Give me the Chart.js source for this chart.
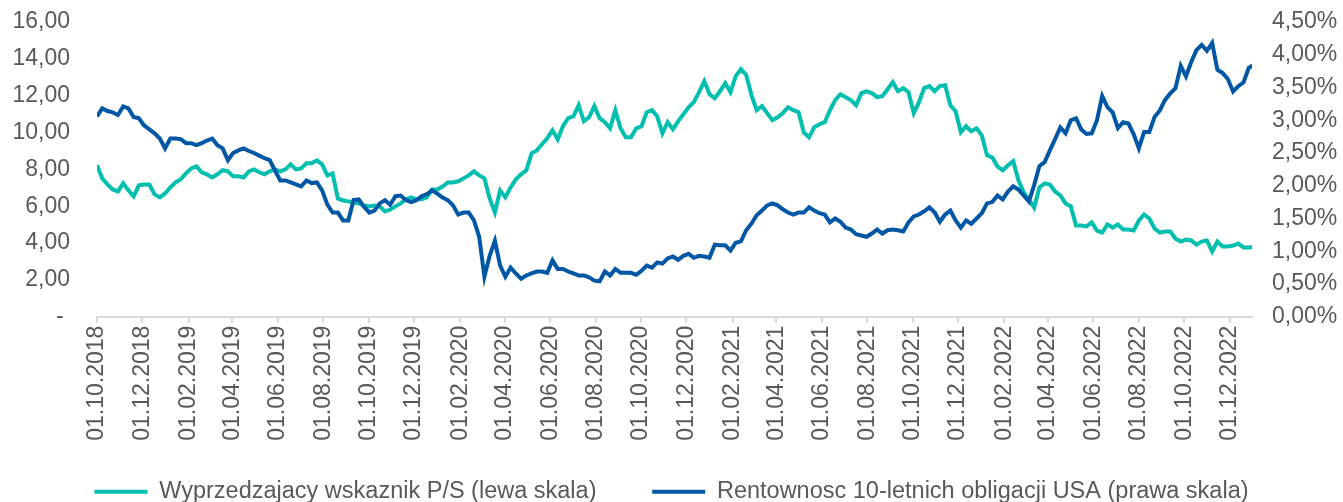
<!DOCTYPE html>
<html lang="pl">
<head>
  <meta charset="UTF-8">
  <title>P/S i rentownosc</title>
  <script src="https://cdn.jsdelivr.net/npm/chart.js@4.4.1/dist/chart.umd.min.js"></script>
  <style>
    html, body { margin: 0; padding: 0; background: #fff; }
  </style>
</head>
<body>
  <canvas id="chart" width="1343" height="502"></canvas>

  <script>
    // series names
    const psLabel = 'Wyprzedzajacy wskaznik P/S (lewa skala)'
    const yieldLabel = 'Rentownosc 10-letnich obligacji USA (prawa skala)'

    // readings taken roughly once a week starting 01.10.2018
    const startDate = '01.10.2018'
    const endDate = '31.12.2022'
    const stepDays = 7.035

    const tickLabels = [
      '01.10.2018', '01.12.2018', '01.02.2019', '01.04.2019', '01.06.2019', '01.08.2019',
      '01.10.2019', '01.12.2019', '01.02.2020', '01.04.2020', '01.06.2020', '01.08.2020',
      '01.10.2020', '01.12.2020', '01.02.2021', '01.04.2021', '01.06.2021', '01.08.2021',
      '01.10.2021', '01.12.2021', '01.02.2022', '01.04.2022', '01.06.2022', '01.08.2022',
      '01.10.2022', '01.12.2022'
    ]
    const leftTicks = ['- ', '2,00', '4,00', '6,00', '8,00', '10,00', '12,00', '14,00', '16,00']
    const rightTicks = ['0,00%', '0,50%', '1,00%', '1,50%', '2,00%', '2,50%', '3,00%', '3,50%', '4,00%', '4,50%']

    const psValues = [
      8.22, 7.51, 7.18, 6.91, 6.80, 7.24, 6.86, 6.53, 7.13, 7.18,
      7.18, 6.64, 6.48, 6.69, 7.02, 7.29, 7.46, 7.78, 8.05, 8.16,
      7.84, 7.73, 7.56, 7.73, 7.95, 7.89, 7.62, 7.62, 7.56, 7.89,
      8.00, 7.84, 7.73, 7.89, 8.00, 7.89, 8.00, 8.27, 8.00, 8.05,
      8.33, 8.33, 8.49, 8.27, 7.67, 7.78, 6.42, 6.31, 6.26, 6.20,
      6.15, 6.04, 5.99, 6.04, 5.99, 5.71, 5.82, 5.99, 6.15, 6.37,
      6.48, 6.37, 6.37, 6.48, 6.91, 6.91, 7.07, 7.29, 7.29, 7.35,
      7.51, 7.67, 7.89, 7.67, 7.51, 6.42, 5.66, 6.86, 6.48, 7.02,
      7.46, 7.73, 7.95, 8.87, 9.03, 9.36, 9.69, 10.12, 9.63, 10.34,
      10.78, 10.88, 11.48, 10.61, 10.83, 11.43, 10.78, 10.56, 10.23, 11.21,
      10.23, 9.74, 9.74, 10.23, 10.34, 11.10, 11.21, 10.88, 9.96, 10.56,
      10.18, 10.61, 10.99, 11.37, 11.65, 12.19, 12.79, 12.08, 11.86, 12.24,
      12.68, 12.19, 13.06, 13.44, 13.12, 12.03, 11.21, 11.43, 11.05, 10.67,
      10.83, 11.05, 11.37, 11.21, 11.10, 10.01, 9.74, 10.29, 10.45, 10.56,
      11.21, 11.76, 12.08, 11.92, 11.76, 11.48, 12.14, 12.24, 12.14, 11.92,
      11.97, 12.35, 12.73, 12.24, 12.41, 12.19, 11.05, 11.65, 12.41, 12.52,
      12.24, 12.52, 12.57, 11.48, 11.16, 10.01, 10.34, 10.07, 10.23, 9.85,
      8.76, 8.65, 8.16, 7.95, 8.22, 8.44, 7.40, 6.75, 6.37, 5.93,
      7.02, 7.24, 7.18, 6.80, 6.59, 6.15, 5.99, 4.95, 4.95, 4.90,
      5.12, 4.68, 4.57, 5.01, 4.84, 5.01, 4.73, 4.73, 4.68, 5.22,
      5.55, 5.33, 4.79, 4.57, 4.63, 4.63, 4.24, 4.08, 4.19, 4.14,
      3.92, 4.08, 4.14, 3.54, 4.08, 3.81, 3.81, 3.86, 3.97, 3.76,
      3.76, 3.80
    ]

    const yieldValues = [
      3.06, 3.18, 3.14, 3.12, 3.08, 3.21, 3.18, 3.05, 3.03, 2.92,
      2.86, 2.80, 2.72, 2.57, 2.72, 2.72, 2.71, 2.65, 2.65, 2.62,
      2.65, 2.69, 2.72, 2.62, 2.57, 2.39, 2.50, 2.54, 2.57, 2.53,
      2.50, 2.46, 2.42, 2.39, 2.23, 2.08, 2.08, 2.05, 2.02, 1.99,
      2.08, 2.04, 2.05, 1.93, 1.71, 1.59, 1.59, 1.47, 1.47, 1.78,
      1.79, 1.68, 1.59, 1.62, 1.73, 1.78, 1.71, 1.84, 1.85, 1.78,
      1.75, 1.78, 1.84, 1.87, 1.93, 1.88, 1.82, 1.78, 1.70, 1.56,
      1.59, 1.59, 1.47, 1.22, 0.61, 0.93, 1.16, 0.78, 0.61, 0.75,
      0.66, 0.58, 0.63, 0.66, 0.69, 0.69, 0.67, 0.86, 0.73, 0.73,
      0.69, 0.66, 0.63, 0.63, 0.60, 0.55, 0.54, 0.69, 0.63, 0.73,
      0.67, 0.67, 0.67, 0.64, 0.70, 0.78, 0.75, 0.83, 0.81, 0.89,
      0.92, 0.87, 0.93, 0.96, 0.90, 0.93, 0.92, 0.90, 1.10, 1.09,
      1.09, 1.01, 1.13, 1.15, 1.32, 1.42, 1.55, 1.62, 1.70, 1.73,
      1.70, 1.64, 1.59, 1.56, 1.59, 1.59, 1.67, 1.62, 1.58, 1.56,
      1.44, 1.50, 1.45, 1.36, 1.33, 1.26, 1.24, 1.22, 1.27, 1.33,
      1.27, 1.32, 1.33, 1.32, 1.30, 1.44, 1.53, 1.56, 1.61, 1.67,
      1.59, 1.45, 1.56, 1.62, 1.47, 1.36, 1.47, 1.42, 1.50, 1.58,
      1.73, 1.75, 1.85, 1.79, 1.91, 1.99, 1.94, 1.85, 1.76, 2.01,
      2.30, 2.36, 2.54, 2.71, 2.89, 2.80, 3.00, 3.03, 2.86, 2.79,
      2.80, 3.00, 3.37, 3.20, 3.12, 2.88, 2.97, 2.95, 2.79, 2.57,
      2.82, 2.82, 3.05, 3.15, 3.31, 3.41, 3.49, 3.83, 3.67, 3.89,
      4.07, 4.15, 4.06, 4.18, 3.77, 3.72, 3.63, 3.44, 3.52, 3.58,
      3.80, 3.85
    ]

    // days since the first date, used for the x axis
    function dayOf(label) {
      const [d, m, y] = label.split('.').map(Number)
      const [d0, m0, y0] = startDate.split('.').map(Number)
      return (Date.UTC(y, m - 1, d) - Date.UTC(y0, m0 - 1, d0)) / 86400000
    }

    const tickDays = tickLabels.map(dayOf)
    const toPoints = values => values.map((v, i) => ({ x: i * stepDays, y: v }))

    const grey = '#595959'
    const axisGrey = '#d9d9d9'
    const font = { family: 'Liberation Sans, Arial, sans-serif', size: 23 }
    const legendFont = { family: 'Liberation Sans, Arial, sans-serif', size: 23.5 }

    Chart.defaults.font.family = font.family
    Chart.defaults.color = grey

    // y axes: no extra room above/below for the end labels
    const noEndPadding = scale => { scale.paddingTop = 0; scale.paddingBottom = 0 }

    new Chart(document.getElementById('chart'), {
      type: 'line',
      data: {
        datasets: [{
          label: psLabel,
          data: toPoints(psValues),
          borderColor: '#00bfae',
          backgroundColor: '#00bfae',
          borderWidth: 4,
          pointRadius: 0,
          tension: 0,
          yAxisID: 'y',
          order: 1
        }, {
          label: yieldLabel,
          data: toPoints(yieldValues),
          borderColor: '#0057a6',
          backgroundColor: '#0057a6',
          borderWidth: 4,
          pointRadius: 0,
          tension: 0,
          yAxisID: 'y1',
          order: 0
        }]
      },
      options: {
        responsive: false,
        animation: false,
        devicePixelRatio: 1,
        layout: { padding: { top: 22, bottom: -11.5, left: 0, right: 0 } },
        plugins: {
          tooltip: { enabled: false },
          legend: {
            position: 'bottom',
            labels: {
              font: legendFont,
              color: grey,
              usePointStyle: true,
              pointStyle: 'line',
              pointStyleWidth: 53,
              padding: 10,
              sort: (a, b) => a.datasetIndex - b.datasetIndex,
              // wider gap after the first entry, like the original
              generateLabels: chart => Chart.defaults.plugins.legend.labels.generateLabels(chart)
                .map(item => item.datasetIndex === 0 ? { ...item, text: item.text + '       ' } : item)
            }
          }
        },
        scales: {
          x: {
            type: 'linear',
            min: 0,
            max: dayOf(endDate),
            grid: { display: true, drawOnChartArea: false, drawTicks: true, tickLength: 6, color: axisGrey, lineWidth: 2 },
            border: { display: true, color: axisGrey, width: 2 },
            afterBuildTicks: scale => { scale.ticks = tickDays.map(v => ({ value: v })) },
            afterFit: scale => { scale.height = 502 + 11.5 - 43.5 - 316.7 },
            ticks: {
              autoSkip: false,
              minRotation: 90,
              maxRotation: 90,
              padding: 3,
              font: font,
              color: grey,
              callback: (value, index) => tickLabels[index]
            }
          },
          y: {
            position: 'left',
            min: 0,
            max: 16,
            grid: { display: false },
            border: { display: false },
            afterFit: scale => { scale.width = 97; noEndPadding(scale) },
            ticks: {
              stepSize: 2,
              padding: 19,
              font: font,
              color: grey,
              callback: (value, index) => leftTicks[index]
            }
          },
          y1: {
            position: 'right',
            min: 0,
            max: 4.5,
            grid: { display: false },
            border: { display: false },
            afterFit: scale => { scale.width = 91; noEndPadding(scale) },
            ticks: {
              stepSize: 0.5,
              padding: 12,
              font: font,
              color: grey,
              callback: (value, index) => rightTicks[index]
            }
          }
        }
      }
    })
  </script>
</body>
</html>
